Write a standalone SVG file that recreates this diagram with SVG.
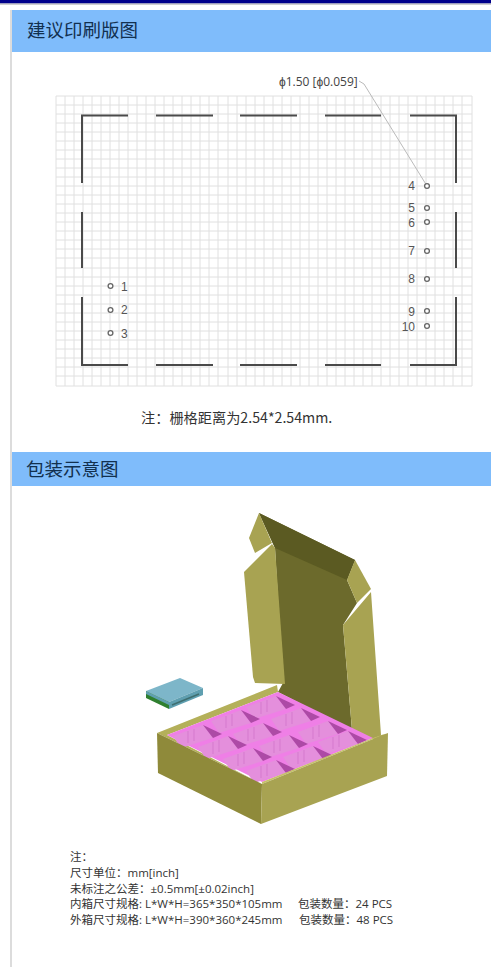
<svg xmlns="http://www.w3.org/2000/svg" width="491" height="967" viewBox="0 0 491 967">
<style>
text{font-family:"Noto Sans CJK SC","Liberation Sans",sans-serif;fill:#333}
.h{font-size:18.500px;fill:#12304f}
.n{font-size:12px;fill:#555;font-family:"Liberation Sans",sans-serif}
.t{font-size:11.500px;fill:#333;font-family:"Open Sans","Noto Sans CJK SC",sans-serif}
.g{stroke:#e0e0e0;stroke-width:1;fill:none}
.f{stroke:#4a4a4a;stroke-width:2;fill:none}
.c{fill:#fff;stroke:#666;stroke-width:1.300}
</style>
<defs>
<path id="gp" d="M56 96V386M65 96V386M74 96V386M83 96V386M92 96V386M101 96V386M110 96V386M119 96V386M128 96V386M137 96V386M146 96V386M155 96V386M164 96V386M173 96V386M182 96V386M191 96V386M200 96V386M209 96V386M218 96V386M228 96V386M237 96V386M246 96V386M255 96V386M264 96V386M273 96V386M282 96V386M291 96V386M300 96V386M309 96V386M318 96V386M327 96V386M336 96V386M345 96V386M354 96V386M363 96V386M372 96V386M381 96V386M390 96V386M399 96V386M408 96V386M417 96V386M426 96V386M435 96V386M444 96V386M453 96V386M462 96V386M472 96V386M56 96H472M56 105H472M56 114H472M56 123H472M56 132H472M56 141H472M56 150H472M56 159H472M56 168H472M56 177H472M56 186H472M56 195H472M56 204H472M56 213H472M56 222H472M56 231H472M56 240H472M56 249H472M56 258H472M56 268H472M56 277H472M56 286H472M56 295H472M56 304H472M56 313H472M56 322H472M56 331H472M56 340H472M56 349H472M56 358H472M56 367H472M56 376H472M56 386H472"/>
<g id="cell">
<path d="M-39 4L-9-7L1 6L-31 16Z" fill="#e48fdc"/>
<path d="M-9-7L10 2L1 6Z" fill="#ad4aa6"/>
<path d="M-24-1V11M-18-3V9" stroke="#d070c8" stroke-width=".7" fill="none"/>
</g>
</defs>
<rect width="491" height="967" fill="#fff"/>
<rect width="491" height="3.500" fill="#00008b"/>
<rect y="3.500" width="491" height="1.200" fill="#bbb"/>
<rect x="10" y="10" width="2" height="957" fill="#dcdcdc"/>
<g id="header-1"><rect x="12" y="10" width="479" height="42" fill="#7fbcfb"/><text class="h" x="27" y="37">建议印刷版图</text></g>
<g id="grid"><use href="#gp" class="g"/></g>
<g id="frame">
<path class="f" d="M82 183V115.500H128M156 115.500H213M240 115.500H297M325 115.500H381M410 115.500H456V183M456 212V268M456 297V365H410M381 365H325M297 365H240M213 365H156M128 365H82V297M82 268V212"/>
</g>
<g id="leader"><path d="M359 81L364 84L427 186" fill="none" stroke="#bbb" stroke-width="1"/></g>
<g id="holes">
<circle class="c" cx="110.500" cy="286" r="2.400"/><circle class="c" cx="110.500" cy="310" r="2.400"/><circle class="c" cx="110.500" cy="333" r="2.400"/>
<circle class="c" cx="427" cy="186" r="2.400"/><circle class="c" cx="427" cy="208" r="2.400"/><circle class="c" cx="427" cy="222" r="2.400"/><circle class="c" cx="427" cy="251" r="2.400"/><circle class="c" cx="427" cy="279" r="2.400"/><circle class="c" cx="427" cy="311" r="2.400"/><circle class="c" cx="427" cy="326" r="2.400"/>
</g>
<g id="labels">
<text class="n" x="121" y="291">1</text><text class="n" x="121" y="314">2</text><text class="n" x="121" y="338">3</text>
<g text-anchor="end"><text class="n" x="415" y="190">4</text><text class="n" x="415" y="212">5</text><text class="n" x="415" y="227">6</text><text class="n" x="415" y="255">7</text><text class="n" x="415" y="283">8</text><text class="n" x="415" y="316">9</text><text class="n" x="415" y="331">10</text></g>
<text x="279" y="86" style="font-size:12px;font-family:'Open Sans',sans-serif;fill:#444">ϕ1.50 [ϕ0.059]</text>
<text x="141" y="423" style="font-size:14.200px;fill:#333">注：栅格距离为2.54*2.54mm.</text>
</g>
<g id="header-2"><rect x="12" y="452" width="479" height="34" fill="#7fbcfb"/><text class="h" x="26" y="476">包装示意图</text></g>
<g id="product">
<path d="M146 691L180 678L203 688L169 702Z" fill="#7db6c9"/>
<path d="M146 691L169 702V709L146 698Z" fill="#2f7f2f"/>
<path d="M146 691L169 702V705L146 694Z" fill="#5f9fb0"/>
<path d="M169 702L203 688V695L169 709Z" fill="#5f9fb0"/>
<path d="M172 705L199 694" stroke="#3f6f70" stroke-width="1.500"/>
</g>
<g id="box">
<path d="M259 513L355 560L347 580L357 603L343 625L352 730L278 692L283 683L275 548Z" fill="#6c6a2c"/>
<path d="M259 513L355 560L347 580L275 548Z" fill="#5b5a22"/>
<path d="M259 513L272 543L255 553L249 538Z" fill="#a8a352"/>
<path d="M355 560L371 589L357 603L347 580Z" fill="#a8a352"/>
<path d="M272 544L275 548L285 684L255 683L253 677L244 572Z" fill="#a8a352"/>
<path d="M371 592L381 735L388 734L375 740L352 730L343 625Z" fill="#a8a352"/>
<path d="M157 733L277 685L278 692L167 735L262 784Z" fill="#b4b05a"/>
<path d="M167 735L278 692L373 738L262 782Z" fill="#ef7fe6"/>
<use href="#cell" x="285" y="703"/><use href="#cell" x="310" y="715"/><use href="#cell" x="337" y="728"/><use href="#cell" x="357" y="738"/>
<use href="#cell" x="250" y="717"/><use href="#cell" x="272" y="730"/><use href="#cell" x="298" y="742"/><use href="#cell" x="322" y="753"/>
<use href="#cell" x="212" y="732"/><use href="#cell" x="237" y="743"/><use href="#cell" x="262" y="755"/><use href="#cell" x="285" y="767"/>
<path d="M262 782L373 738L388 733L262 784Z" fill="#c6c168"/>
<path d="M157 733L262 784L261 824L158 773Z" fill="#8f8a3a"/>
<path d="M262 784L388 733L387 776L261 824Z" fill="#a8a352"/>
</g>
<g id="notes">
<text class="t" x="70" y="861">注：</text>
<text class="t" x="70" y="877">尺寸单位：mm[inch]</text>
<text class="t" x="70" y="893">未标注之公差：±0.5mm[±0.02inch]</text>
<text class="t" x="70" y="908">内箱尺寸规格: L*W*H=365*350*105mm</text><text class="t" x="298" y="908">包装数量：24 PCS</text>
<text class="t" x="70" y="924">外箱尺寸规格: L*W*H=390*360*245mm</text><text class="t" x="299" y="924">包装数量：48 PCS</text>
</g>
</svg>
